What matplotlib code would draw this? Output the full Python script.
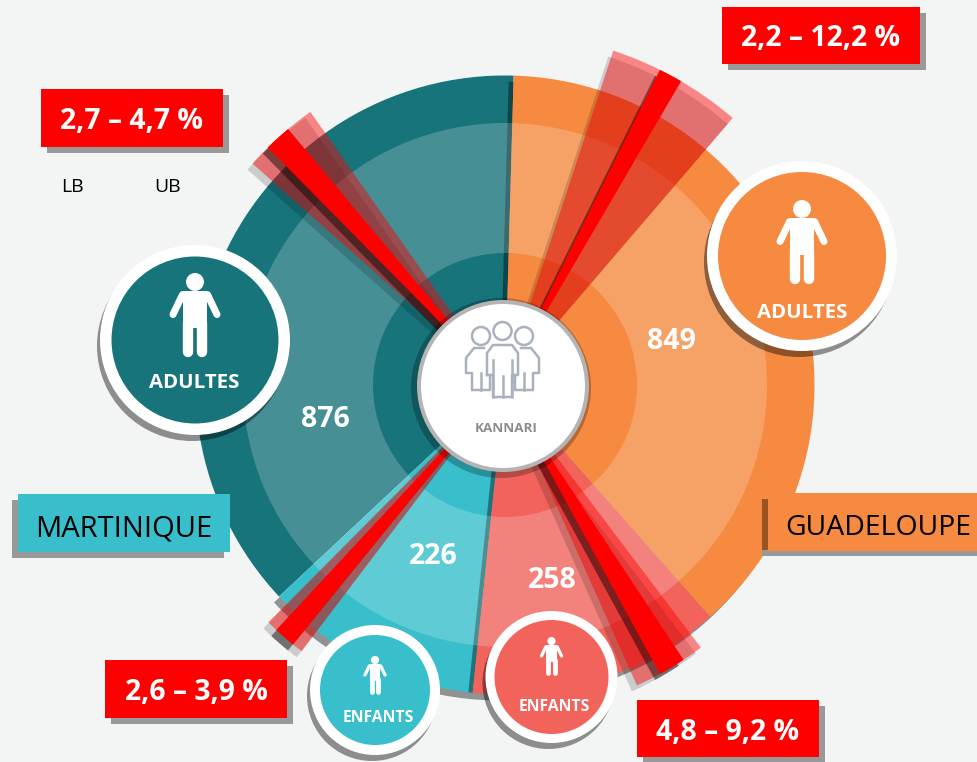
import matplotlib
matplotlib.use("Agg")
from matplotlib import pyplot as plt
from matplotlib.patches import Circle, Polygon, Rectangle, Wedge

plt.rcParams['font.family'] = ['Open Sans', 'DejaVu Sans']

# sectors, angles in degrees clockwise from the top
sector_names = ['MARTINIQUE adultes', 'GUADELOUPE adultes', 'MARTINIQUE enfants', 'GUADELOUPE enfants']
sector_counts = [876, 849, 226, 258]
sector_starts = [226.9, 1.6, 186.0, 138.5]
sector_ends = [361.6, 138.5, 226.9, 186.0]

# ranges, fan angles in degrees clockwise from the top
range_labels = ['2,7 – 4,7 %', '2,2 – 12,2 %', '2,6 – 3,9 %', '4,8 – 9,2 %']
band_starts = [311.6, 18.2, 217.2, 142.9]
band_ends = [324.9, 40.6, 224.8, 155.9]
core_starts = [315.4, 26.4, 219.1, 146.6]
core_ends = [320.1, 30.3, 222.9, 151.4]

region_names = ['MARTINIQUE', 'GUADELOUPE']
bound_names = ['LB', 'UB']
hub_name = 'KANNARI'
group_adults = 'ADULTES'
group_children = 'ENFANTS'

BG = '#F3F4F4'
TEAL = '#17747B'
ORANGE = '#F58A40'
CYAN = '#38BFCB'
CORAL = '#F2635C'
RED = '#FF0000'
sector_colors = [TEAL, ORANGE, CYAN, CORAL]

CX, CY = 503, 386
DISK_X, DISK_Y = 505, 385
R_OUT, R_MID, R_IN = 309.5, 262, 132
band_reach = [335, 353, 333, 328]
SHIFT = (-5, 6)

count_pos = [(325, 419.5), (671, 341.5), (433, 556.5), (552, 580.5)]
box_pos = [(41, 89, 182, 58), (722, 7, 198, 57), (105, 660, 182, 58), (637, 700, 182, 57)]


def wedge(ax, center, r, a1, a2, color, alpha=1.0, shift=(0, 0), zorder=2):
    # y axis is flipped, so theta already runs clockwise on screen
    p = Wedge((center[0] + shift[0], center[1] + shift[1]), r, a1 - 90, a2 - 90,
              facecolor=color, alpha=alpha, linewidth=0, zorder=zorder)
    ax.add_patch(p)


def person(ax, x, y, h, zorder=8):
    white = dict(color='white', solid_capstyle='round', zorder=zorder)
    ax.add_patch(Circle((x, y + .108 * h), .108 * h, color='white', lw=0, zorder=zorder))
    ax.add_patch(Polygon([(x - .14 * h, y + .22 * h), (x + .14 * h, y + .22 * h),
                          (x + .14 * h, y + .66 * h), (x - .14 * h, y + .66 * h)],
                         color='white', lw=0, zorder=zorder))
    lw_arm = .085 * h * .72
    lw_leg = .125 * h * .72
    for s in (-1, 1):
        ax.plot([x + s * .15 * h, x + s * .265 * h], [y + .26 * h, y + .5 * h], lw=lw_arm, **white)
        ax.plot([x + s * .08 * h, x + s * .08 * h], [y + .6 * h, y + .95 * h], lw=lw_leg, **white)


def badge(ax, x, y, r_white, r_in, color, label, label_x, label_y, head_y, h, size):
    ax.add_patch(Circle((x - 3, y + 6), r_white, color='black', alpha=.42, lw=0, zorder=6))
    ax.add_patch(Circle((x, y), r_white, color='white', lw=0, zorder=7))
    ax.add_patch(Circle((x, y), r_in, color=color, lw=0, zorder=7.5))
    person(ax, x, head_y, h)
    ax.text(label_x, label_y, label, color='white', fontsize=size, fontweight='bold',
            ha='center', va='center', zorder=9)


def hub_icon(ax):
    col = '#A9B1BF'
    lw = 1.8
    for hx, hy in [(481, 336), (502.5, 331), (524, 336)]:
        ax.add_patch(Circle((hx, hy), 9, fill=False, edgecolor=col, lw=lw, zorder=11))
    body = [(487, 375), (487, 353), (493, 345), (512, 345), (518, 353), (518, 375), (512, 375),
            (512, 397), (493, 397), (493, 375), (487, 375)]
    ax.plot(*zip(*body), color=col, lw=lw, zorder=11)
    for seg in [[(493, 360), (493, 397)], [(512, 360), (512, 397)], [(502.5, 376), (502.5, 397)]]:
        ax.plot(*zip(*seg), color=col, lw=lw, zorder=11)
    left = [(484, 348), (474, 348), (466, 358), (466, 373), (472, 373), (472, 390), (490, 390), (490, 375)]
    ax.plot(*zip(*left), color=col, lw=lw, zorder=11)
    ax.plot([481, 481], [373, 390], color=col, lw=lw, zorder=11)
    right = [(521, 348), (531, 348), (539, 358), (539, 373), (533, 373), (533, 390), (515, 390), (515, 375)]
    ax.plot(*zip(*right), color=col, lw=lw, zorder=11)
    ax.plot([524, 524], [373, 390], color=col, lw=lw, zorder=11)


def main():
    fig = plt.figure(figsize=(9.77, 7.62), dpi=100, facecolor=BG)
    ax = fig.add_axes([0, 0, 1, 1])
    ax.set_xlim(0, 977)
    ax.set_ylim(762, 0)
    ax.axis('off')

    disk = (DISK_X, DISK_Y)
    fan = (CX, CY)
    for i in range(4):
        if i > 0:
            wedge(ax, disk, R_OUT, sector_starts[i], sector_ends[i], 'black', .4, SHIFT, zorder=2)
        wedge(ax, disk, R_OUT, sector_starts[i], sector_ends[i], sector_colors[i], zorder=2)

    # lighter ring goes over sectors and their shadows
    ax.add_patch(Wedge((DISK_X, DISK_Y), R_MID, 0, 360, width=R_MID - R_IN, facecolor='white',
                       alpha=.2, lw=0, zorder=3))

    for i in range(4):
        wedge(ax, fan, band_reach[i], band_starts[i], band_ends[i], 'black', .16, SHIFT, zorder=4)
        wedge(ax, fan, band_reach[i], band_starts[i], band_ends[i], RED, .45, zorder=4)
    for i in range(4):
        wedge(ax, fan, band_reach[i], core_starts[i], core_ends[i], 'black', .45, SHIFT, zorder=4.5)
        wedge(ax, fan, band_reach[i], core_starts[i], core_ends[i], RED, zorder=4.6)

    for i in range(4):
        ax.text(count_pos[i][0], count_pos[i][1], str(sector_counts[i]), color='white',
                fontsize=20.5, fontweight='bold', ha='center', va='center', zorder=5)

    badge(ax, 195, 340, 95, 83.5, TEAL, group_adults, 194.5, 383, 273, 83, 14.7)
    badge(ax, 802, 256, 95, 84, ORANGE, group_adults, 802, 313, 200, 83, 14.7)
    badge(ax, 375, 690, 65, 55, CYAN, group_children, 378.5, 718, 656, 38, 11.3)
    badge(ax, 551.5, 677, 66, 57, CORAL, group_children, 554, 707, 637, 38, 11.3)

    # hub
    ax.add_patch(Circle((CX - 2, CY + 2), 90, color='black', alpha=.25, lw=0, zorder=9))
    ax.add_patch(Circle((CX, CY), 86, color='#B4B4B4', lw=0, zorder=10))
    ax.add_patch(Circle((CX, CY), 82, color='white', lw=0, zorder=10.5))
    hub_icon(ax)
    ax.text(506.5, 429, hub_name, color='#8C8C8C', fontsize=9.6, fontweight='bold',
            ha='center', va='center', zorder=11)

    # red callouts
    for label, (x, y, w, h) in zip(range_labels, box_pos):
        ax.add_patch(Rectangle((x + 6, y + 6), w, h, color='#999999', lw=0, zorder=12))
        ax.add_patch(Rectangle((x, y), w, h, color=RED, lw=0, zorder=13))
        ax.text(x + w / 2, y + h / 2 + 3.5, label, color='white', fontsize=20.4, fontweight='bold',
                ha='center', va='center', zorder=14)

    ax.text(72, 187, bound_names[0], fontsize=14, color='black', ha='center', va='center', zorder=14)
    ax.text(168, 187, bound_names[1], fontsize=14, color='black', ha='center', va='center', zorder=14)

    # region tags
    ax.add_patch(Rectangle((12, 500), 212, 58, color='#999999', lw=0, zorder=12))
    ax.add_patch(Rectangle((17.5, 494), 212.5, 58, color=CYAN, lw=0, zorder=13))
    ax.text(124, 529, region_names[0], fontsize=21, color='black', ha='center', va='center', zorder=14)

    ax.add_patch(Rectangle((762, 499), 215, 57, color='#999999', lw=0, zorder=12))
    ax.add_patch(Rectangle((762, 499), 5.5, 51, color='#9A5424', lw=0, zorder=13.5))
    ax.add_patch(Rectangle((767, 493), 210, 58, color=ORANGE, lw=0, zorder=13))
    ax.text(878.5, 528, region_names[1], fontsize=20.4, color='black', ha='center', va='center', zorder=14)

    fig.savefig('out.png', dpi=100, facecolor=BG)


if __name__ == "__main__":
    main()
